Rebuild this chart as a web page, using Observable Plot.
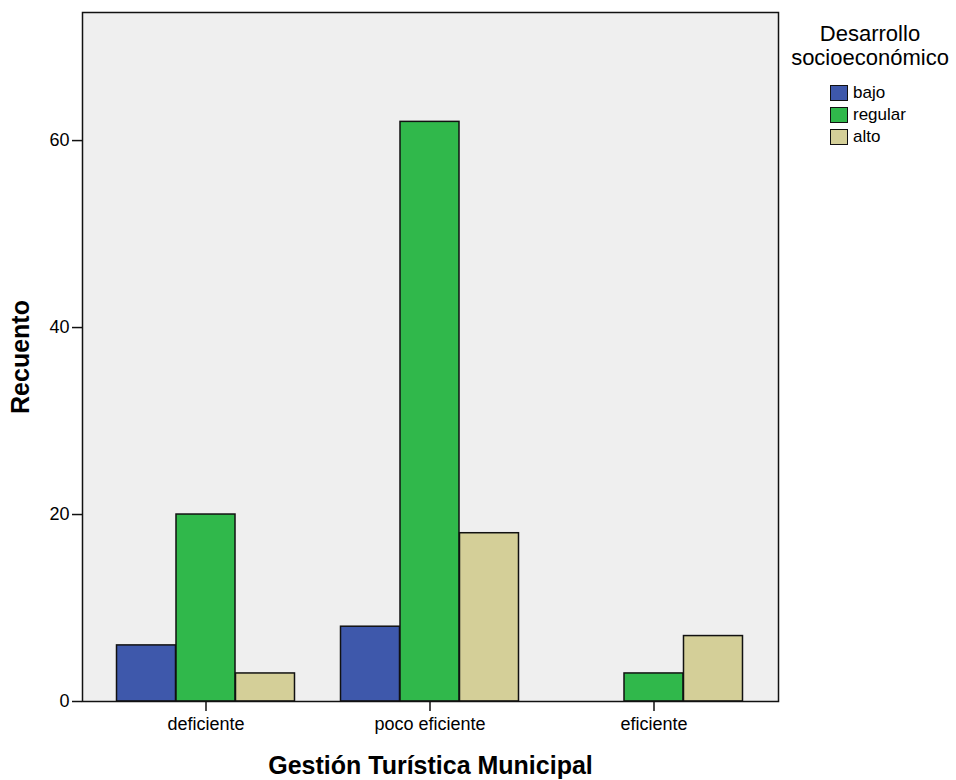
<!DOCTYPE html>
<html>
<head>
<meta charset="utf-8">
<script src="https://cdn.jsdelivr.net/npm/d3@7"></script>
<script src="https://cdn.jsdelivr.net/npm/@observablehq/plot@0.6"></script>
<style>
  body { margin: 0; background: white; font-family: "Liberation Sans", Arial, sans-serif; }
  #wrap { position: relative; width: 956px; height: 780px; }
  #legend { position: absolute; left: 784px; top: 22px; width: 172px; color: black; }
  #legend .title { text-align: center; font-size: 22px; line-height: 24px; }
  #legend .items { margin-top: 12px; margin-left: 46px; }
  #legend .item { display: flex; align-items: center; height: 22px; font-size: 17px; }
  #legend .sw { width: 16px; height: 14px; border: 1.5px solid #111; margin-right: 5px; }
</style>
</head>
<body>
<div id="wrap">
  <div id="chart"></div>
  <div id="legend"></div>
</div>
<script>
const groups = ["deficiente", "poco eficiente", "eficiente"];
const series = ["bajo", "regular", "alto"];
const bajo = [6, 8, 0];
const regular = [20, 62, 3];
const alto = [3, 18, 7];
const yTicks = [0, 20, 40, 60];
const colors = ["#3e58ab", "#30b84b", "#d4cf98"];
const xLabel = "Gestión Turística Municipal";
const yLabel = "Recuento";
const legendTitle = ["Desarrollo", "socioeconómico"];

const valuesBySeries = [bajo, regular, alto];
const data = groups.flatMap((g, i) =>
  series.map((s, j) => ({ group: g, series: s, value: valuesBySeries[j][i] }))
);

const W = 956, H = 780, mL = 82, mR = 178, mT = 12, mB = 79;
const pInner = 0.735, pOuter = 0.4176;
const step = (W - mL - mR) / (groups.length - pInner + 2 * pOuter);
const bw = step * (1 - pInner);

const bars = series.map((s, j) =>
  Plot.barY(data.filter(d => d.series === s && d.value > 0), {
    x: "group", y: "value", fill: "series",
    stroke: "#111", strokeWidth: 1.5,
    dx: (j - (series.length - 1) / 2) * bw
  })
);

const chart = Plot.plot({
  width: W,
  height: H,
  marginLeft: mL,
  marginRight: mR,
  marginTop: mT,
  marginBottom: mB,
  style: { fontFamily: "'Liberation Sans', Arial, sans-serif", fontSize: "18px", color: "black", background: "white" },
  x: { domain: groups, paddingInner: pInner, paddingOuter: pOuter, label: null },
  y: { domain: [0, 73.7], label: null },
  color: { domain: series, range: colors },
  marks: [
    Plot.frame({ fill: "#efefef" }),
    ...bars,
    Plot.frame({ stroke: "#111", strokeWidth: 1.5 }),
    Plot.axisY({ ticks: yTicks, tickSize: 10, tickPadding: 3, label: null, fontSize: 18, stroke: "#111", strokeWidth: 1.5 }),
    Plot.axisX({ tickSize: 10, tickPadding: 6, label: null, fontSize: 18, stroke: "#111", strokeWidth: 1.5 }),
    Plot.text([yLabel], {
      frameAnchor: "left", dx: -62, rotate: -90,
      textAnchor: "middle", lineAnchor: "middle", fontWeight: "bold", fontSize: 25
    }),
    Plot.text([xLabel], {
      frameAnchor: "bottom", dy: 64,
      textAnchor: "middle", lineAnchor: "middle", fontWeight: "bold", fontSize: 25
    })
  ]
});
document.getElementById("chart").append(chart);

const legend = document.getElementById("legend");
const title = document.createElement("div");
title.className = "title";
title.innerHTML = legendTitle.join("<br>");
legend.append(title);
const items = document.createElement("div");
items.className = "items";
series.forEach((s, i) => {
  const it = document.createElement("div");
  it.className = "item";
  const sw = document.createElement("span");
  sw.className = "sw";
  sw.style.background = colors[i];
  const lb = document.createElement("span");
  lb.textContent = s;
  it.append(sw, lb);
  items.append(it);
});
legend.append(items);
</script>
</body>
</html>
